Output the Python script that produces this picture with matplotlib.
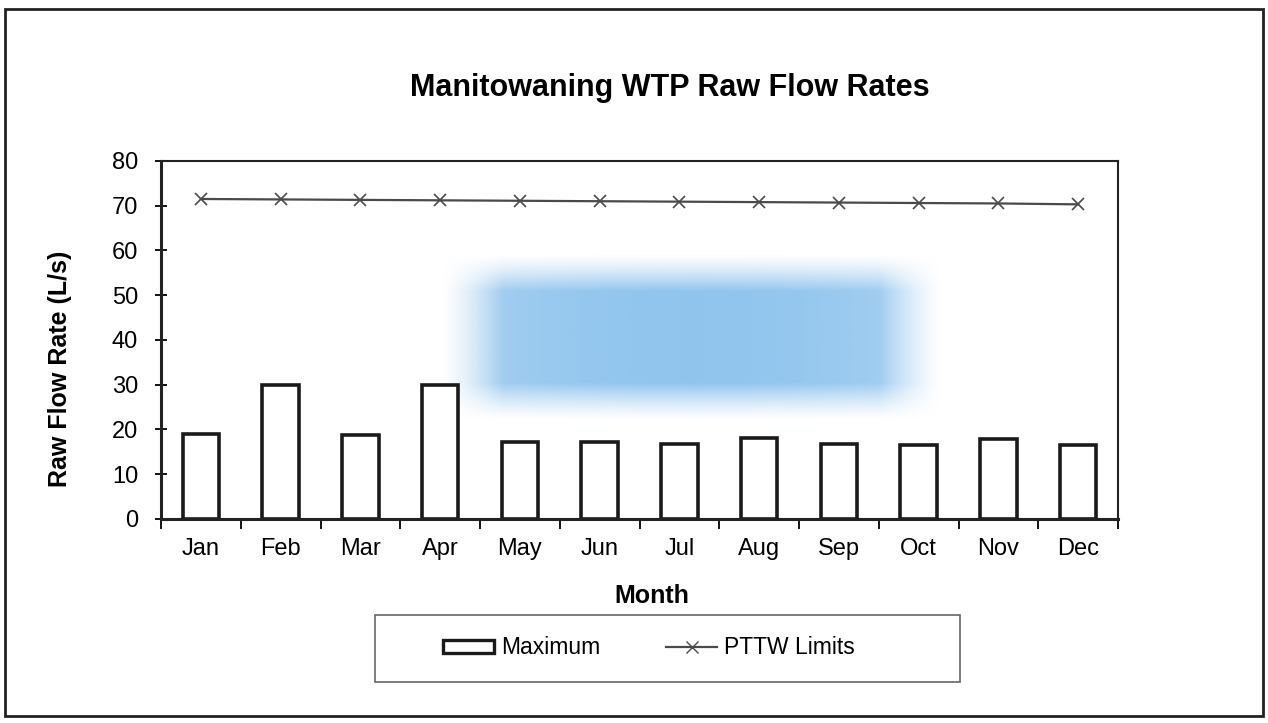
import numpy as np
import matplotlib
matplotlib.use("Agg")
import matplotlib.pyplot as plt
from matplotlib.patches import Rectangle, Patch
from matplotlib.lines import Line2D

plt.rcParams['font.family'] = ['Liberation Sans', 'DejaVu Sans']

# data
months = ["Jan", "Feb", "Mar", "Apr", "May", "Jun", "Jul", "Aug", "Sep", "Oct", "Nov", "Dec"]
maximum = [19.0, 30.0, 18.8, 29.9, 17.2, 17.2, 16.8, 18.1, 16.8, 16.6, 17.8, 16.5]
pttw_limits = [71.5, 71.4, 71.3, 71.2, 71.1, 71.0, 70.9, 70.8, 70.7, 70.6, 70.5, 70.3]

fig = plt.figure(figsize=(12.68, 7.23), dpi=100)
ax = fig.add_axes([0.127, 0.2822, 0.7547, 0.4952])

x = np.arange(len(months))

# blue smudge from the scan (soft box)
gx = np.linspace(-1, 1, 300)
gy = np.linspace(-1, 1, 120)
GX, GY = np.meshgrid(gx, gy)
soft = lambda t, e: np.clip((1 - np.abs(t)) / e, 0, 1) ** 1.3
alpha = soft(GX, 0.25) * soft(GY, 0.45) * (0.62 + 0.2 * (1 - GX ** 2))
img = np.zeros((len(gy), len(gx), 4))
img[..., 0] = 120 / 255
img[..., 1] = 184 / 255
img[..., 2] = 234 / 255
img[..., 3] = alpha
ax.imshow(img, extent=(3.0, 9.3, 22.0, 59.5), aspect="auto", zorder=1, interpolation="bilinear")

ax.bar(x, maximum, width=0.46, facecolor="white", edgecolor="#1a1a1a", linewidth=2.6, zorder=2)
ax.plot(x, pttw_limits, color="#4a4a4a", linewidth=1.6, marker="x", markersize=8,
        markeredgewidth=1.2, zorder=3)

ax.set_xlim(-0.5, 11.5)
ax.set_ylim(0, 80)
ax.set_yticks(range(0, 81, 10))
ax.set_xticks(x)
ax.set_xticklabels(months, fontsize=17)
ax.set_xticks(np.arange(-0.5, 12, 1), minor=True)
ax.tick_params(axis="x", which="major", length=0, pad=14)
ax.tick_params(axis="x", which="minor", length=7, width=1.3, direction="out")
ax.tick_params(axis="y", length=9, width=1.3, direction="inout", labelsize=17, pad=12)
for s in ax.spines.values():
    s.set_linewidth(1.5)
    s.set_color("#222222")
ax.spines["left"].set_linewidth(2.2)
ax.spines["bottom"].set_linewidth(2.2)

ax.set_ylabel("Raw Flow Rate (L/s)", fontsize=18, fontweight="bold")
ax.yaxis.set_label_coords(-0.093, 0.42)
ax.set_xlabel("Month", fontsize=18, fontweight="bold")
ax.xaxis.set_label_coords(0.513, -0.182)

fig.text(0.528, 0.878, "Manitowaning WTP Raw Flow Rates", ha="center", va="center",
         fontsize=22, fontweight="bold")

handles = [Patch(facecolor="white", edgecolor="#1a1a1a", linewidth=2.4),
           Line2D([0], [0], color="#4a4a4a", marker="x", markersize=8, linewidth=1.6)]
fig.legend(handles, ["Maximum", "PTTW Limits"], loc="center",
           bbox_to_anchor=(649 / 1268, 1 - 648 / 723), ncol=2, fontsize=16.5, frameon=False,
           columnspacing=2.9, handlelength=2.2, handleheight=0.5, handletextpad=0.3)

# legend box and outer chart border
fig.patches.append(Rectangle((0.2957, 0.0567), 0.4614, 0.0927, transform=fig.transFigure,
                             fill=False, edgecolor="#666666", linewidth=1.2))
fig.patches.append(Rectangle((0.004, 0.01), 0.992, 0.978, transform=fig.transFigure,
                             fill=False, edgecolor="#222222", linewidth=2.0))

fig.savefig("out.png", dpi=100)
